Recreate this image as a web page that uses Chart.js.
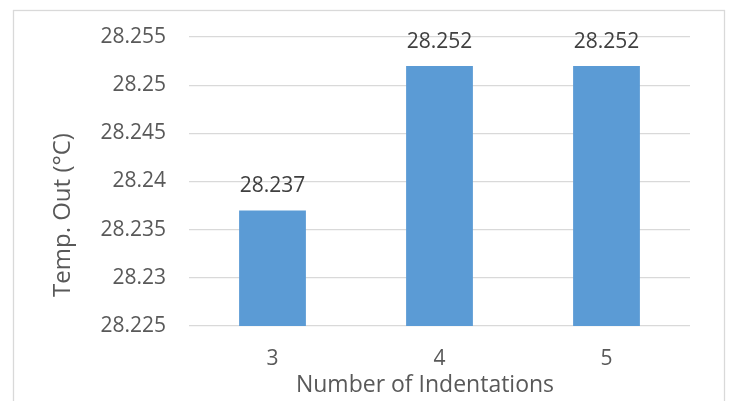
<!DOCTYPE html>
<html>
<head>
<meta charset="utf-8">
<script src="https://cdn.jsdelivr.net/npm/chart.js@4/dist/chart.umd.min.js"></script>
<style>
  html, body { margin: 0; padding: 0; background: #ffffff; }
  #wrap { width: 733px; height: 401px; position: relative; }
</style>
</head>
<body>
<div id="wrap"><canvas id="c" width="733" height="401"></canvas></div>
<script>
// Outlet temperature against the number of indentations
const categories = ['3', '4', '5'];
const tempOut = [28.237, 28.252, 28.252];
const yMin = 28.225;
const yMax = 28.255;
const yStep = 0.005;
const xTitle = 'Number of Indentations';
const yTitle = 'Temp. Out (°C)';

const FONT = '"Open Sans", "Noto Sans", sans-serif';
const TEXT = '#595959';
const GRID = '#D9D9D9';

// Frame around the chart plus hand-placed axis titles and value labels
const decor = {
  id: 'decor',
  beforeDraw(chart) {
    const ctx = chart.ctx;
    ctx.save();
    ctx.fillStyle = '#ffffff';
    ctx.fillRect(0, 0, chart.width, chart.height);
    ctx.strokeStyle = GRID;
    ctx.lineWidth = 1.3;
    ctx.strokeRect(13.5, 10.5, 711, 420);
    ctx.restore();
  },
  afterDatasetsDraw(chart) {
    const ctx = chart.ctx;
    const meta = chart.getDatasetMeta(0);
    ctx.save();
    ctx.font = '21px ' + FONT;
    ctx.fillStyle = '#404040';
    ctx.textAlign = 'center';
    ctx.textBaseline = 'alphabetic';
    meta.data.forEach((bar, i) => {
      ctx.fillText(String(chart.data.datasets[0].data[i]), bar.x, bar.y - 18);
    });
    ctx.restore();
  },
  afterDraw(chart) {
    const ctx = chart.ctx;
    const area = chart.chartArea;
    ctx.save();
    ctx.fillStyle = TEXT;
    ctx.textAlign = 'center';
    ctx.textBaseline = 'middle';
    ctx.font = '23px ' + FONT;
    ctx.fillText(xTitle, area.left + 236, 385);
    ctx.font = '24px ' + FONT;
    ctx.translate(63, 215);
    ctx.rotate(-Math.PI / 2);
    ctx.fillText(yTitle, 0, 0);
    ctx.restore();
  }
};

new Chart(document.getElementById('c'), {
  type: 'bar',
  data: {
    labels: categories,
    datasets: [{
      data: tempOut,
      backgroundColor: '#5B9BD5',
      borderWidth: 0,
      barPercentage: 1,
      categoryPercentage: 0.4
    }]
  },
  options: {
    responsive: false,
    animation: false,
    devicePixelRatio: 1,
    layout: { padding: { left: 13, right: 43, top: 37, bottom: 0 } },
    plugins: {
      legend: { display: false },
      tooltip: { enabled: false }
    },
    scales: {
      x: {
        grid: { display: false, drawTicks: false },
        border: { display: false },
        ticks: { color: TEXT, font: { family: FONT, size: 21 }, padding: 20 },
        afterFit(scale) { scale.height = 75; }
      },
      y: {
        min: yMin,
        max: yMax,
        grid: { color: GRID, lineWidth: 1.3, drawTicks: false },
        border: { display: false },
        ticks: {
          stepSize: yStep,
          color: TEXT,
          font: { family: FONT, size: 21 },
          padding: 23,
          callback: (v) => String(parseFloat(Number(v).toFixed(3)))
        },
        afterFit(scale) { scale.width = 176; }
      }
    }
  },
  plugins: [decor]
});
</script>
</body>
</html>
